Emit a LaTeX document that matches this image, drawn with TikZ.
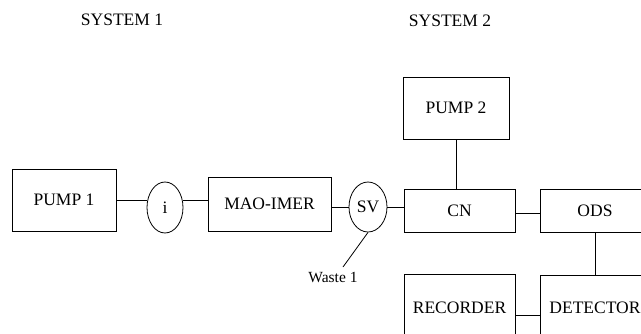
\documentclass[tikz,border=0pt]{standalone}
\usepackage{fontspec}
\setmainfont{Liberation Serif}
\usetikzlibrary{shapes.geometric}
\begin{document}
\begin{tikzpicture}[x=1pt,y=-1pt,
  every node/.style={font=\fontsize{17.5}{20}\selectfont, inner sep=0pt},
  box/.style={draw, line width=0.8pt, rectangle},
  oval/.style={draw, line width=0.8pt, ellipse},
  conn/.style={line width=0.8pt},
  title/.style={},
  small/.style={font=\fontsize{15.5}{18}\selectfont}]
\useasboundingbox (0,0) rectangle (641,333);
\clip (0,0) rectangle (641,333);
\node[title] (s1) at (122,20) {SYSTEM 1};
\node[title] (s2) at (450,21) {SYSTEM 2};
\node[box, minimum width=104, minimum height=62] (p1) at (64,200) {PUMP 1};
\node[oval, minimum width=36, minimum height=51] (i) at (165,207.5) {i};
\node[box, minimum width=123, minimum height=54] (mao) at (269.5,204) {MAO-IMER};
\node[oval, minimum width=38, minimum height=50] (sv) at (368,207) {SV};
\node[box, minimum width=111, minimum height=43] (cn) at (459.5,210.5) {CN};
\node[box, minimum width=110, minimum height=43] (ods) at (595,210.5) {ODS};
\node[box, minimum width=106, minimum height=62] (p2) at (456,108) {PUMP 2};
\node[box, minimum width=111, minimum height=68] (rec) at (459.5,308) {RECORDER};
\node[box, minimum width=110, minimum height=66] (det) at (595,308) {DETECTOR};
\node[small] (waste) at (333,277) {Waste 1};
\coordinate (wend) at (343,267);
\draw[conn] (p1.east) -- (p1.east -| i.west);
\draw[conn] (p1.east -| i.east) -- (p1.east -| mao.west);
\draw[conn] ([yshift=-3pt]mao.east) -- ([yshift=-3pt]mao.east -| sv.west);
\draw[conn] (sv.east) -- (sv.east -| cn.west);
\draw[conn] ([yshift=-2.5pt]cn.east) -- ([yshift=-2.5pt]cn.east -| ods.west);
\draw[conn] (p2.south) -- (p2.south |- cn.north);
\draw[conn] (ods.south) -- (det.north);
\draw[conn] ([yshift=-7pt]rec.east) -- ([yshift=-7pt]rec.east -| det.west);
\draw[conn] (sv.south) -- (wend);
\end{tikzpicture}
\end{document}
